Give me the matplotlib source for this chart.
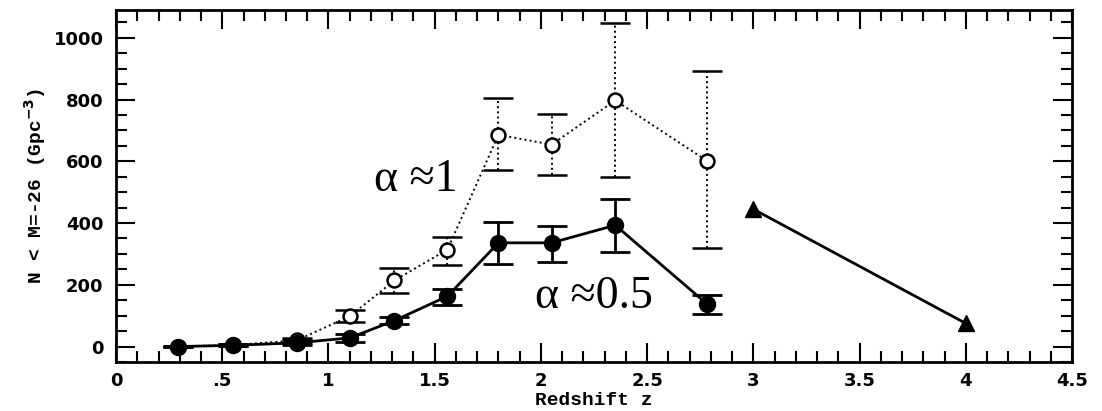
import numpy as np
import matplotlib.pyplot as plt
from matplotlib.ticker import MultipleLocator

# --- data ---
z = [0.29, 0.55, 0.85, 1.10, 1.31, 1.56, 1.80, 2.05, 2.35, 2.78]

# alpha ~ 0.5 (filled circles, solid line)
n_half = [0, 4, 12, 28, 84, 163, 336, 336, 393, 139]
n_half_lo = [0, 1, 5, 16, 74, 136, 269, 275, 307, 107]
n_half_hi = [3, 8, 20, 40, 95, 188, 405, 392, 479, 168]

# alpha ~ 1 (open circles, dotted line)
n_one = [0, 5, 20, 98, 214, 314, 686, 654, 797, 602]
n_one_lo = [0, 3, 12, 78, 175, 265, 573, 557, 550, 320]
n_one_hi = [2, 8, 28, 120, 256, 356, 805, 754, 1048, 893]

# high-z points (triangles)
z_tri = [3.0, 4.0]
n_tri = [445, 75]

xticks = [0, 0.5, 1, 1.5, 2, 2.5, 3, 3.5, 4, 4.5]
xtick_labels = ["0", ".5", "1", "1.5", "2", "2.5", "3", "3.5", "4", "4.5"]
yticks = [0, 200, 400, 600, 800, 1000]


def yerr(vals, lo, hi):
    v = np.array(vals)
    return [v - np.array(lo), np.array(hi) - v]


fig = plt.figure(figsize=(11.02, 4.11), dpi=100)
ax = fig.add_axes([0.1053, 0.1192, 0.8675, 0.8565])

# open circles, dotted
eb1 = ax.errorbar(z, n_one, yerr=yerr(n_one, n_one_lo, n_one_hi),
                  fmt="o", linestyle=":", color="black", lw=1.4,
                  mfc="white", mec="black", mew=1.8, ms=10,
                  capsize=11, capthick=1.6, elinewidth=1.4, zorder=2)
for bl in eb1[2]:
    bl.set_linestyle(":")

# filled circles, solid
ax.errorbar(z, n_half, yerr=yerr(n_half, n_half_lo, n_half_hi),
            fmt="o-", color="black", lw=2.0, ms=11.5,
            capsize=11, capthick=2.0, elinewidth=2.0, zorder=3)

# triangles
ax.plot(z_tri, n_tri, "^-", color="black", lw=2.0, ms=12, zorder=3)

# annotations
ax.text(1.41, 540, r"α ≈1", fontsize=33, family="Liberation Serif",
        ha="center", va="center")
ax.text(2.25, 162, r"α ≈0.5", fontsize=33, family="Liberation Serif",
        ha="center", va="center")

ax.set_xlim(0, 4.5)
ax.set_ylim(-50, 1090)
ax.set_xticks(xticks)
ax.set_xticklabels(xtick_labels)
ax.set_yticks(yticks)
ax.xaxis.set_minor_locator(MultipleLocator(0.1))
ax.yaxis.set_minor_locator(MultipleLocator(50))

ax.tick_params(which="both", direction="in", top=True, right=True, width=1.5)
ax.tick_params(which="major", length=14)
ax.tick_params(which="minor", length=8)
ax.tick_params(axis="y", pad=9)
ax.tick_params(axis="x", pad=7)
for lab in ax.get_xticklabels() + ax.get_yticklabels():
    lab.set_fontweight("bold")
    lab.set_fontsize(13)

for sp in ax.spines.values():
    sp.set_linewidth(2)

ax.set_ylabel(r"N < M=-26 (Gpc$^{\mathbf{-3}}$)", family="Liberation Mono",
              fontweight="bold", fontsize=14, labelpad=4)
ax.set_xlabel("Redshift z", family="Liberation Mono", fontweight="bold",
              fontsize=14, labelpad=1.5)

fig.savefig("out.png", dpi=100)
